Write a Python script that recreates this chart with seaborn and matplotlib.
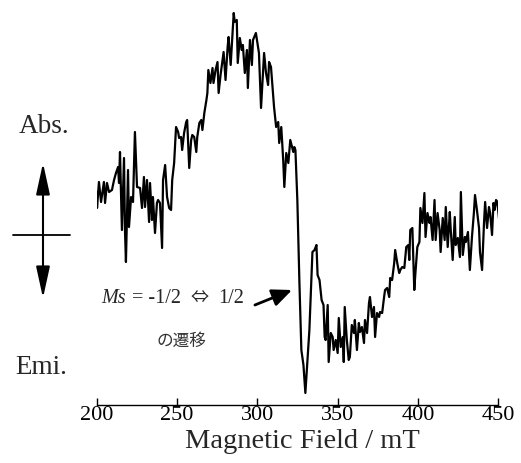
import matplotlib
matplotlib.use("Agg")
import matplotlib.pyplot as plt
import seaborn as sns

# --- data (field in mT, signal in arbitrary units) ---
field = [
    200.0, 200.2, 201.4, 202.7, 204.5, 205.2, 206.4, 207.7, 209.5, 210.8,
    212.0, 213.3, 213.9, 214.5, 215.7, 217.0, 217.6, 218.2, 219.5, 220.1,
    221.4, 222.6, 223.8, 225.1, 227.0, 228.2, 229.4, 230.1, 231.3, 232.6,
    233.2, 234.4, 235.0, 236.3, 237.5, 238.2, 239.4, 240.7, 241.3, 242.6,
    243.8, 245.1, 246.3, 247.0, 248.2, 249.4, 250.7, 251.3, 252.5, 253.2,
    254.4, 255.7, 256.3, 257.6, 258.8, 259.5, 260.7, 262.0, 262.6, 263.9,
    265.1, 265.8, 267.0, 268.3, 268.9, 269.5, 270.8, 272.1, 272.7, 274.0,
    275.2, 275.9, 277.1, 279.0, 280.2, 281.5, 282.1, 283.4, 284.6, 285.3,
    285.9, 287.2, 287.8, 289.1, 290.3, 291.0, 292.2, 293.5, 294.1, 295.4,
    296.6, 297.3, 299.1, 300.4, 301.0, 302.3, 304.2, 305.4, 306.7, 307.3,
    308.5, 309.8, 310.4, 311.7, 313.0, 313.6, 314.9, 316.1, 316.8, 318.0,
    319.3, 320.5, 322.4, 323.0, 323.7, 324.9, 326.2, 327.4, 328.7, 329.9,
    331.2, 332.4, 334.3, 335.6, 336.8, 337.5, 338.7, 340.0, 341.2, 341.9,
    342.5, 343.8, 344.4, 345.7, 346.9, 347.5, 348.8, 350.0, 350.7, 351.9,
    353.2, 353.8, 354.4, 355.7, 356.9, 357.6, 358.8, 360.1, 360.7, 362.0,
    363.2, 363.9, 365.1, 366.4, 367.0, 368.3, 369.5, 370.1, 371.4, 372.6,
    373.3, 374.5, 375.8, 376.4, 377.7, 378.9, 379.5, 380.8, 382.1, 382.7,
    383.9, 385.2, 385.8, 387.1, 388.3, 389.0, 390.2, 391.5, 392.7, 394.0,
    394.6, 395.2, 396.5, 397.7, 398.4, 399.6, 400.9, 401.5, 402.8, 404.0,
    404.7, 405.9, 407.2, 407.8, 409.1, 410.3, 411.0, 412.2, 413.5, 414.1,
    415.4, 416.6, 417.3, 418.5, 419.8, 420.4, 421.6, 422.9, 423.5, 424.8,
    426.1, 426.7, 427.9, 429.2, 429.8, 431.1, 432.3, 433.6, 434.8, 435.5,
    436.7, 438.0, 438.6, 439.9, 441.1, 441.8, 443.0, 444.2, 444.9, 446.1,
    447.0, 447.7, 448.6, 449.4, 449.9, 450.4,
]
signal = [
    43, 27, 53, 33, 53, 32, 52, 43, 45, 55,
    62, 68, 52, 83, 5, 77, 5, -27, 65, 8,
    38, 33, 103, 48, 47, 27, 58, 28, 55, 13,
    52, 15, 38, 2, 32, 35, 32, -13, 55, 70,
    38, 27, 25, 55, 72, 108, 103, 97, 98, 85,
    102, 113, 115, 67, 95, 100, 98, 83, 98, 112,
    115, 105, 122, 135, 142, 165, 152, 167, 152, 165,
    173, 142, 160, 183, 155, 188, 198, 170, 202, 222,
    213, 215, 172, 197, 185, 190, 162, 185, 147, 195,
    170, 195, 202, 188, 182, 127, 182, 162, 150, 173,
    168, 140, 128, 108, 113, 92, 108, 75, 48, 82,
    72, 95, 83, 88, 85, 35, -48, -115, -130, -158,
    -125, -95, -17, -15, -10, -40, -45, -65, -70, -102,
    -105, -70, -127, -98, -102, -115, -105, -118, -83, -112,
    -102, -127, -72, -105, -125, -122, -90, -98, -85, -115,
    -88, -97, -92, -108, -85, -98, -68, -62, -82, -72,
    -102, -78, -82, -77, -78, -62, -55, -53, -62, -43,
    -45, -28, -15, -28, -38, -35, -32, -33, -12, -10,
    -25, 5, 7, -55, -38, -12, -7, 27, 12, 42,
    -2, 22, 12, 18, -5, 35, -5, 22, 5, -17,
    17, -5, 28, -12, 23, 5, -25, 18, -10, -3,
    -22, 43, -20, -2, -7, 3, -35, -2, 22, 40,
    25, 7, -17, -35, 12, 33, 7, 28, 22, 0,
    32, 25, 35, 33, 25, 17,
]
xticks = [200, 250, 300, 350, 400, 450]

sns.set_style("white")
plt.rcParams["font.family"] = ["Liberation Serif", "DejaVu Serif"]

W, H = 521, 463
fig = plt.figure(figsize=(W / 100, H / 100), dpi=100)
ax = fig.add_axes([96.7 / W, 1 - 405 / H, 401.6 / W, 405 / H])

sns.lineplot(x=field, y=signal, ax=ax, color="black", linewidth=1.6,
             sort=False, estimator=None)

ax.set_xlim(200, 450)
ax.set_ylim(-170, 235)
ax.set_xticks(xticks)
ax.set_yticks([])
ax.set_xlabel("")
ax.set_ylabel("")
for s in ["left", "top", "right"]:
    ax.spines[s].set_visible(False)
ax.spines["bottom"].set_color("black")
ax.spines["bottom"].set_linewidth(1.0)
ax.tick_params(axis="x", bottom=True, direction="in", length=5, width=1,
               labelsize=16, pad=1, colors="black")
ax.patch.set_alpha(0)

def fx(px):
    return px / W

def fy(py):
    return 1 - py / H

fig.text(fx(302), fy(448), "Magnetic Field / mT", ha="center", va="baseline",
         fontsize=20.5)

# Abs. / Emi. indicator on the left
fig.text(fx(44), fy(133), "Abs.", ha="center", va="baseline", fontsize=19.5)
fig.text(fx(41), fy(374), "Emi.", ha="center", va="baseline", fontsize=19.5)
ax.annotate("", xy=(fx(43), fy(163)), xytext=(fx(43), fy(298)),
            xycoords="figure fraction", textcoords="figure fraction",
            annotation_clip=False,
            arrowprops=dict(arrowstyle="<|-|>,head_length=1.6,head_width=0.35",
                            mutation_scale=12, color="black", lw=1.5,
                            shrinkA=0, shrinkB=0))
ax.annotate("", xy=(fx(13), fy(235)), xytext=(fx(70), fy(235)),
            xycoords="figure fraction", textcoords="figure fraction",
            annotation_clip=False,
            arrowprops=dict(arrowstyle="-", color="black", lw=1.3,
                            shrinkA=0, shrinkB=0))

# transition label with arrow
fig.text(fx(126), fy(303), "Ms", ha="right", va="baseline", fontsize=14.5,
         style="italic")
fig.text(fx(127), fy(303), " = -1/2", ha="left", va="baseline",
         fontsize=14.5)
fig.text(fx(200), fy(303), "⇔", ha="center", va="baseline", fontsize=13,
         family=["Noto Sans CJK JP", "DejaVu Sans"])
fig.text(fx(218), fy(303), "1/2", ha="left", va="baseline", fontsize=14.5)
fig.text(fx(157), fy(341), "の遷移", ha="left", va="center", fontsize=12,
         family=["Noto Sans CJK JP", "DejaVu Sans"], color="#333333")
ax.annotate("", xy=(321.6, -55), xytext=(298.5, -70),
            arrowprops=dict(arrowstyle="-|>,head_length=0.8,head_width=0.35",
                            mutation_scale=15, color="black", lw=2,
                            shrinkA=0, shrinkB=0))

fig.savefig("out.png", dpi=100)
